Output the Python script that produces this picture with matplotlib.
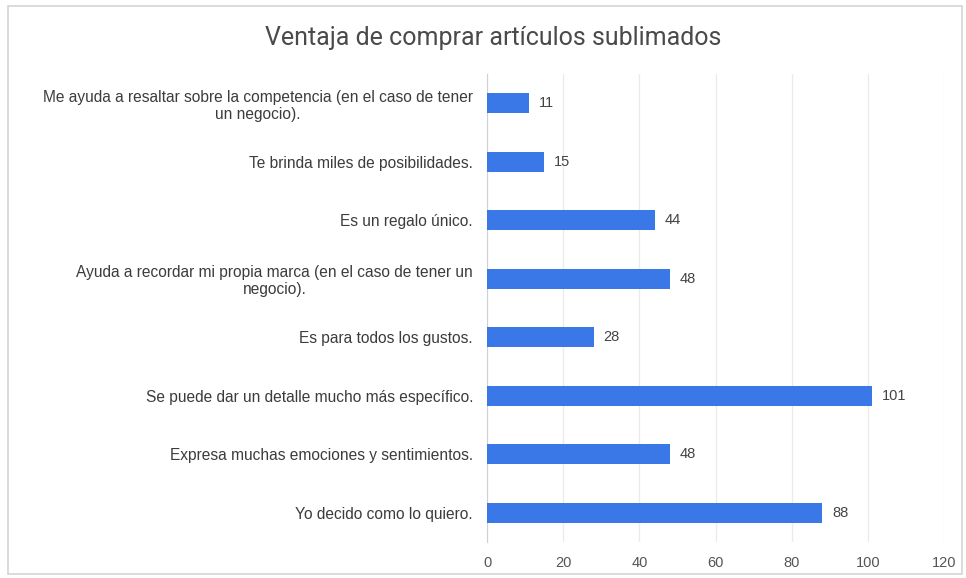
import matplotlib.pyplot as plt
from matplotlib.patches import Rectangle

categorias = [
    "Me ayuda a resaltar sobre la competencia (en el caso de tener\nun negocio).",
    "Te brinda miles de posibilidades.",
    "Es un regalo único.",
    "Ayuda a recordar mi propia marca (en el caso de tener un\nnegocio).",
    "Es para todos los gustos.",
    "Se puede dar un detalle mucho más específico.",
    "Expresa muchas emociones y sentimientos.",
    "Yo decido como lo quiero.",
]
valores = [11, 15, 44, 48, 28, 101, 48, 88]
ticks_x = [0, 20, 40, 60, 80, 100, 120]

plt.rcParams['font.family'] = ['Liberation Sans', 'DejaVu Sans']

fig = plt.figure(figsize=(9.66, 5.78), dpi=100)
ax = fig.add_axes([487/966, 1 - 542/578, (944 - 487)/966, (542 - 74)/578])

# marco gris alrededor del gráfico
fig.patches.append(Rectangle((8/966, 4/578), 954/966, 568/578, transform=fig.transFigure,
                             fill=False, edgecolor='#d4d4d4', linewidth=1.2))

pos = list(range(len(categorias)))
barras = ax.barh(pos, valores, height=0.34, color='#3b78e7', zorder=3)
ax.set_ylim(len(categorias) - 0.5, -0.5)
ax.set_xlim(0, 120)
ax.set_xticks(ticks_x)
ax.set_yticks(pos)
ax.set_yticklabels(categorias, multialignment='center', fontsize=11.2, color='#3c3c3c',
                   linespacing=1.15)
ax.tick_params(axis='x', colors='#555555', labelsize=10.5, length=0, pad=10)
ax.tick_params(axis='y', length=0, pad=10)

for b, v in zip(barras, valores):
    ax.text(v + 2.6, b.get_y() + b.get_height() / 2, str(v), va='center', ha='left',
            fontsize=10.5, color='#444444')

ax.grid(axis='x', color='#ebebeb', linewidth=1, zorder=0)
for s in ['top', 'right', 'bottom']:
    ax.spines[s].set_visible(False)
ax.spines['left'].set_color('#d0d0d0')

fig.text(493/966, 1 - 38/578, "Ventaja de comprar artículos sublimados", ha='center', va='center',
         fontsize=18, color='#4a4a4a', family=['Roboto', 'DejaVu Sans'])

fig.savefig('out.png', dpi=100)
